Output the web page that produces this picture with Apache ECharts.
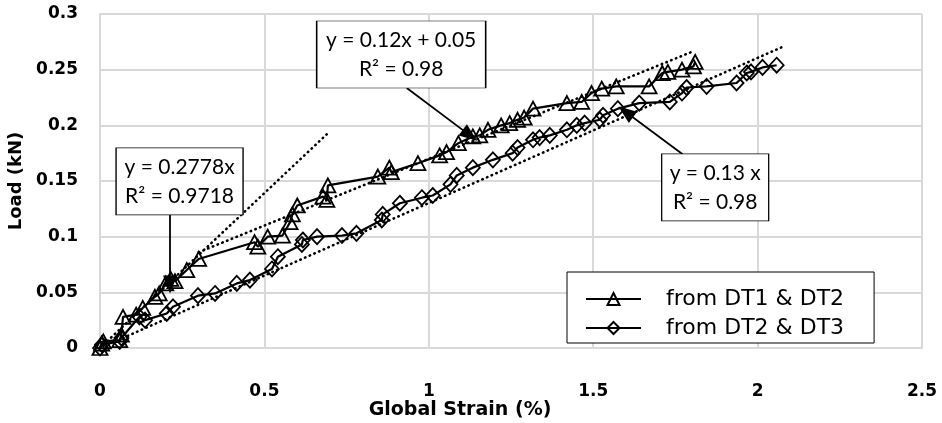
<!DOCTYPE html>
<html>
<head>
<meta charset="utf-8">
<script src="https://cdn.jsdelivr.net/npm/echarts@6/dist/echarts.min.js"></script>
<style>
  html, body { margin: 0; padding: 0; background: #fff; }
  #chart { width: 942px; height: 423px; }
</style>
</head>
<body>
<div id="chart"></div>
<script>
// series
const strainDT12 = [0, 0.005, 0.01, 0.06, 0.065, 0.07, 0.11, 0.13, 0.167, 0.18, 0.2, 0.215, 0.228, 0.264, 0.3,
  0.47, 0.48, 0.51, 0.555, 0.578, 0.585, 0.6, 0.678, 0.69, 0.693, 0.845, 0.88, 0.886, 0.967, 1.033, 1.054,
  1.09, 1.134, 1.155, 1.18, 1.22, 1.246, 1.27, 1.29, 1.317, 1.42, 1.465, 1.495, 1.526, 1.57, 1.67, 1.71,
  1.727, 1.77, 1.805, 1.81];
const loadDT12 = [0, 0.004, 0.006, 0.007, 0.012, 0.028, 0.03, 0.036, 0.046, 0.049, 0.058, 0.062, 0.06, 0.07, 0.08,
  0.095, 0.091, 0.1, 0.101, 0.113, 0.12, 0.128, 0.136, 0.133, 0.146, 0.154, 0.162, 0.158, 0.166, 0.173, 0.176,
  0.184, 0.19, 0.191, 0.196, 0.2, 0.202, 0.205, 0.207, 0.215, 0.22, 0.221, 0.229, 0.233, 0.235, 0.235, 0.247,
  0.248, 0.25, 0.253, 0.257];

const strainDT23 = [0, 0.006, 0.06, 0.065, 0.12, 0.137, 0.203, 0.222, 0.298, 0.35, 0.416, 0.456, 0.523, 0.541,
  0.614, 0.617, 0.66, 0.736, 0.78, 0.857, 0.86, 0.912, 0.979, 1.012, 1.066, 1.085, 1.134, 1.195, 1.255, 1.27,
  1.317, 1.337, 1.368, 1.42, 1.45, 1.474, 1.52, 1.53, 1.575, 1.64, 1.733, 1.77, 1.784, 1.845, 1.936, 1.967,
  1.98, 2.015, 2.058];
const loadDT23 = [0, 0.003, 0.006, 0.009, 0.028, 0.025, 0.031, 0.037, 0.047, 0.049, 0.058, 0.061, 0.071, 0.082,
  0.093, 0.097, 0.1, 0.101, 0.103, 0.115, 0.12, 0.13, 0.135, 0.137, 0.147, 0.155, 0.162, 0.169, 0.175, 0.18,
  0.187, 0.189, 0.191, 0.196, 0.2, 0.202, 0.205, 0.209, 0.215, 0.22, 0.221, 0.229, 0.234, 0.235, 0.238, 0.247,
  0.248, 0.252, 0.254];

// trendline end points (dotted)
const fitInitX = [0, 0.69];
const fitInitY = [0, 0.192];
const fitDT12X = [0.3, 1.8];
const fitDT12Y = [0.086, 0.266];
const fitDT23X = [0.07, 2.08];
const fitDT23Y = [0.009, 0.271];

// annotation texts, box anchors and arrows (data coords)
const noteTexts = ['y = 0.2778x\nR² = 0.9718', 'y = 0.12x + 0.05\nR² = 0.98', 'y = 0.13 x\nR² = 0.98'];
const noteAnchors = [[0.242, 0.1496], [0.916, 0.2636], [1.871, 0.1442]];
const arrowFrom = [[0.213, 0.1195], [0.933, 0.2335], [1.772, 0.174]];
const arrowTo = [[0.213, 0.057], [1.125, 0.191], [1.599, 0.212]];

const xTicks = [0, 2.5, 0.5];
const yTicks = [0, 0.3, 0.05];

const pairs = (xs, ys) => xs.map((x, i) => [x, ys[i]]);
const FONT = 'Lato, "Open Sans", sans-serif';
const WIDE_FONT = '"DejaVu Sans", sans-serif';
const GRID_GRAY = '#d9d9d9';
const boxSizes = [[127, 67], [169, 67], [107, 67]];

const chart = echarts.init(document.getElementById('chart'));

const dotted = {
  color: '#000',
  width: 2.6,
  type: [0.5, 4.6],
  cap: 'round',
};

const option = {
  animation: false,
  textStyle: { fontFamily: FONT },
  grid: { left: 100, right: 20, top: 14, bottom: 75, outerBoundsMode: 'none' },
  legend: {
    data: ['from DT1 & DT2', 'from DT2 & DT3'],
    orient: 'vertical',
    left: 567,
    top: 272,
    padding: [16, 30, 4, 18],
    itemWidth: 55,
    itemHeight: 15,
    itemGap: 7,
    backgroundColor: '#fff',
    borderColor: '#000',
    borderWidth: 1,
    textStyle: { fontFamily: WIDE_FONT, fontSize: 22, lineHeight: 20, color: '#000', padding: [0, 0, 0, 20] },
  },
  xAxis: {
    type: 'value',
    min: xTicks[0],
    max: xTicks[1],
    interval: xTicks[2],
    name: 'Global Strain (%)',
    nameLocation: 'middle',
    nameGap: 53,
    nameMoveOverlap: false,
    nameTextStyle: { fontFamily: WIDE_FONT, fontSize: 19, fontWeight: 'bold', color: '#000', padding: [0, 102, 0, 0] },
    axisLine: { show: true, lineStyle: { color: GRID_GRAY, width: 2 } },
    axisTick: { show: false },
    axisLabel: { fontFamily: WIDE_FONT, fontSize: 17, fontWeight: 'bold', color: '#000', margin: 37, lineHeight: 14 },
    splitLine: { show: true, lineStyle: { color: GRID_GRAY, width: 2 } },
  },
  yAxis: {
    type: 'value',
    min: yTicks[0],
    max: yTicks[1],
    interval: yTicks[2],
    name: 'Load (kN)',
    nameLocation: 'middle',
    nameGap: 64,
    nameTextStyle: { fontFamily: WIDE_FONT, fontSize: 18, fontWeight: 'bold', color: '#000' },
    axisLine: { show: true, lineStyle: { color: GRID_GRAY, width: 2 } },
    axisTick: { show: false },
    axisLabel: { fontFamily: WIDE_FONT, fontSize: 17, fontWeight: 'bold', color: '#000', margin: 22 },
    splitLine: { show: true, lineStyle: { color: GRID_GRAY, width: 2 } },
  },
  series: [
    {
      name: 'fit initial',
      type: 'line',
      showSymbol: false,
      lineStyle: dotted,
      data: pairs(fitInitX, fitInitY),
      silent: true,
      z: 1,
    },
    {
      name: 'fit DT12',
      type: 'line',
      showSymbol: false,
      lineStyle: dotted,
      data: pairs(fitDT12X, fitDT12Y),
      silent: true,
      z: 1,
    },
    {
      name: 'fit DT23',
      type: 'line',
      showSymbol: false,
      lineStyle: dotted,
      data: pairs(fitDT23X, fitDT23Y),
      silent: true,
      z: 1,
    },
    {
      name: 'from DT1 & DT2',
      type: 'line',
      symbol: 'triangle',
      symbolSize: [15, 14],
      lineStyle: { color: '#000', width: 2.2 },
      itemStyle: { color: 'rgba(255,255,255,0)', borderColor: '#000', borderWidth: 1.8 },
      data: pairs(strainDT12, loadDT12),
      z: 3,
    },
    {
      name: 'from DT2 & DT3',
      type: 'line',
      symbol: 'diamond',
      symbolSize: [14, 15],
      lineStyle: { color: '#000', width: 2.2 },
      itemStyle: { color: 'rgba(255,255,255,0)', borderColor: '#000', borderWidth: 1.8 },
      data: pairs(strainDT23, loadDT23),
      z: 3,
    },
    {
      name: 'notes',
      type: 'line',
      data: [],
      silent: true,
      z: 5,
      markLine: {
        silent: true,
        animation: false,
        symbol: ['none', 'triangle'],
        symbolSize: [14, 18],
        label: { show: false },
        lineStyle: { color: '#000', width: 1.8, type: 'solid' },
        emphasis: { disabled: true },
        data: arrowFrom.map((p, i) => [{ coord: p }, { coord: arrowTo[i] }]),
      },
      markPoint: {
        silent: true,
        animation: false,
        symbol: 'rect',
        itemStyle: { color: '#fff', borderColor: '#000', borderWidth: 1 },
        label: {
          show: true,
          position: 'inside',
          color: '#000',
          fontFamily: FONT,
          fontSize: 21,
          lineHeight: 29,
          align: 'center',
        },
        data: noteAnchors.map((p, i) => ({
          coord: p,
          symbolSize: boxSizes[i],
          value: noteTexts[i],
          label: { formatter: noteTexts[i] },
        })),
      },
    },
  ],
};

option && chart.setOption(option);
</script>
</body>
</html>
